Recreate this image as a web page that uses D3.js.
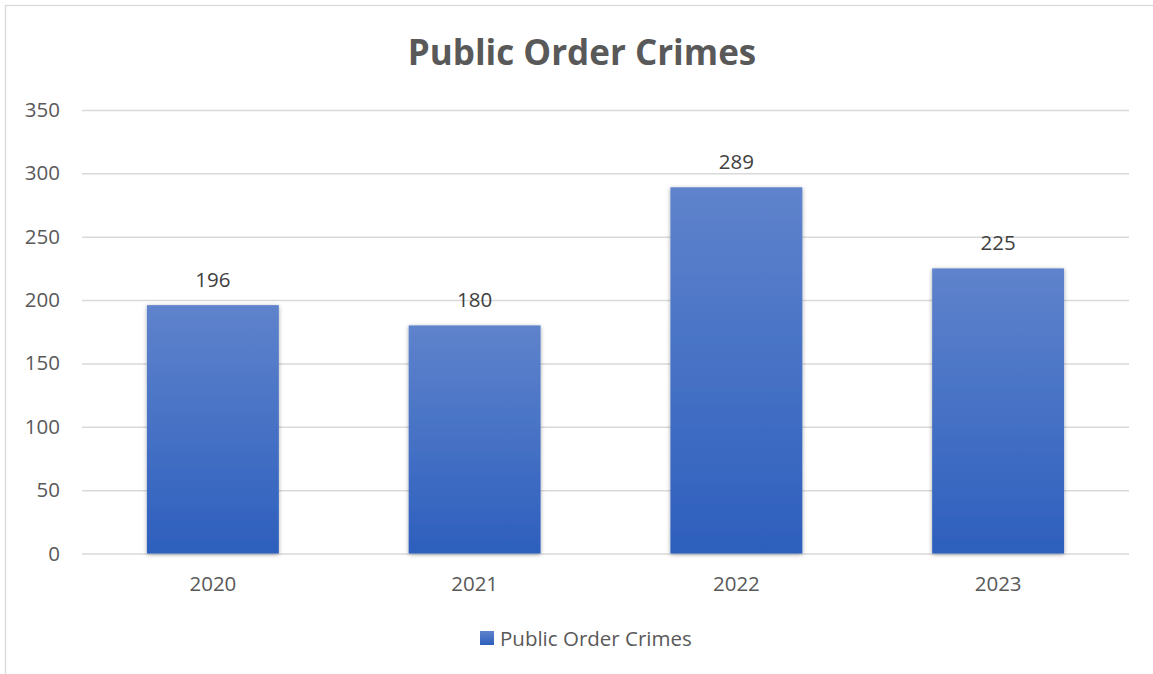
<!DOCTYPE html>
<html>
<head>
<meta charset="utf-8">
<script src="https://cdn.jsdelivr.net/npm/d3@7/dist/d3.min.js"></script>
<style>
  html, body { margin: 0; padding: 0; background: #fff; }
  svg { display: block; }
</style>
</head>
<body>
<script>
// Yearly counts of public order crimes
const years = ["2020", "2021", "2022", "2023"];
const counts = [196, 180, 289, 225];
const yTicks = [0, 50, 100, 150, 200, 250, 300, 350];
const seriesName = "Public Order Crimes";
const chartTitle = "Public Order Crimes";

const W = 1153, H = 674;
const font = "'Open Sans', 'Noto Sans', 'Liberation Sans', sans-serif";
const labelSize = 20.5;
const plot = { left: 82, right: 1129, top: 110, bottom: 553.5 };

const svg = d3.select("body").append("svg")
  .attr("width", W).attr("height", H);

const defs = svg.append("defs");
const grad = defs.append("linearGradient")
  .attr("id", "barFill").attr("x1", 0).attr("y1", 0).attr("x2", 0).attr("y2", 1);
grad.append("stop").attr("offset", "0%").attr("stop-color", "#5f83cc");
grad.append("stop").attr("offset", "100%").attr("stop-color", "#2d5fbd");

const shadow = defs.append("filter").attr("id", "barShadow")
  .attr("x", "-10%").attr("y", "-10%").attr("width", "120%").attr("height", "120%");
shadow.append("feDropShadow").attr("dx", 0).attr("dy", 1)
  .attr("stdDeviation", 2.2).attr("flood-color", "#000").attr("flood-opacity", 0.35);

const legGrad = defs.append("linearGradient")
  .attr("id", "legFill").attr("x1", 0).attr("y1", 0).attr("x2", 0).attr("y2", 1);
legGrad.append("stop").attr("offset", "0%").attr("stop-color", "#5f83cc");
legGrad.append("stop").attr("offset", "100%").attr("stop-color", "#2d5fbd");

// Chart frame
svg.append("rect")
  .attr("x", 5.5).attr("y", 5.5).attr("width", W + 10).attr("height", H + 10)
  .attr("fill", "none").attr("stroke", "#d9d9d9").attr("stroke-width", 1.3);

// Title
svg.append("text")
  .attr("x", 582).attr("y", 65)
  .attr("text-anchor", "middle")
  .attr("font-family", font).attr("font-weight", "bold").attr("font-size", 35)
  .attr("fill", "#595959")
  .text(chartTitle);

const x = d3.scaleBand().domain(years).range([plot.left, plot.right]).paddingInner(0.496).paddingOuter(0.248);
const y = d3.scaleLinear().domain([0, 350]).range([plot.bottom, plot.top]);

// Gridlines and y labels
const yAxis = d3.axisLeft(y).tickValues(yTicks).tickSize(-(plot.right - plot.left)).tickPadding(22);
const gy = svg.append("g").attr("transform", `translate(${plot.left},0)`).call(yAxis);
gy.select(".domain").remove();
gy.selectAll(".tick line").attr("stroke", "#d9d9d9").attr("stroke-width", 1.5);
gy.selectAll(".tick text")
  .attr("font-family", font).attr("font-size", labelSize).attr("fill", "#595959");

// Bars
svg.append("g").selectAll("rect")
  .data(years.map((d, i) => ({ year: d, value: counts[i] })))
  .join("rect")
  .attr("x", d => x(d.year))
  .attr("y", d => y(d.value))
  .attr("width", x.bandwidth())
  .attr("height", d => y(0) - y(d.value))
  .attr("fill", "url(#barFill)")
  .attr("filter", "url(#barShadow)");

// Value labels
svg.append("g").selectAll("text")
  .data(years.map((d, i) => ({ year: d, value: counts[i] })))
  .join("text")
  .attr("x", d => x(d.year) + x.bandwidth() / 2)
  .attr("y", d => y(d.value) - 18.5)
  .attr("text-anchor", "middle")
  .attr("font-family", font).attr("font-size", labelSize).attr("fill", "#404040")
  .text(d => d.value);

// X axis labels
const xAxis = d3.axisBottom(x).tickSize(0).tickPadding(23);
const gx = svg.append("g").attr("transform", `translate(0,${plot.bottom})`).call(xAxis);
gx.select(".domain").remove();
gx.selectAll(".tick text")
  .attr("font-family", font).attr("font-size", labelSize).attr("fill", "#595959");

// Legend
const leg = svg.append("g").attr("transform", "translate(480,631)");
leg.append("rect").attr("width", 14).attr("height", 14).attr("fill", "url(#legFill)");
leg.append("text").attr("x", 20).attr("y", 14.5)
  .attr("font-family", font).attr("font-size", labelSize).attr("fill", "#595959")
  .text(seriesName);
</script>
</body>
</html>
